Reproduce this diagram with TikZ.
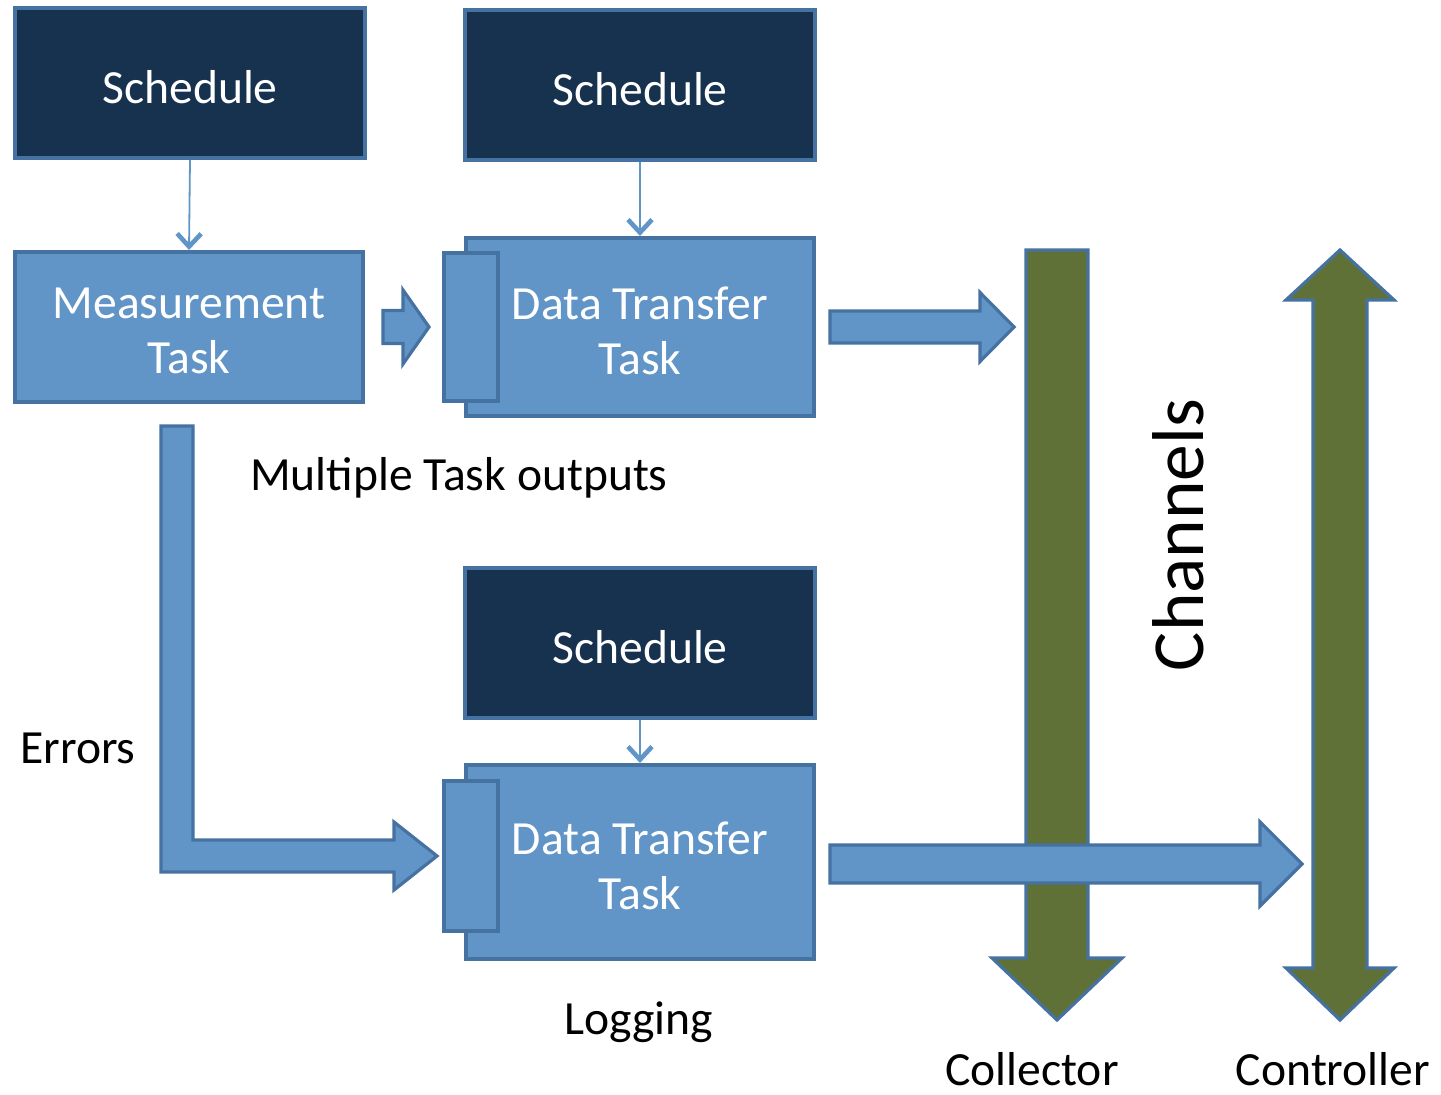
\documentclass[tikz,border=0pt]{standalone}
\usepackage{fontspec}
\setmainfont{Carlito}
\usetikzlibrary{positioning,arrows.meta,calc}
\definecolor{navy}{HTML}{17324F}
\definecolor{taskblue}{HTML}{6195C8}
\definecolor{edgeblue}{HTML}{4672A1}
\definecolor{channelgreen}{HTML}{5F7136}

\newcommand{\blockR}[5]{%
  \draw[blockarrow] let \p1=(#1), \p2=(#2) in
    (\x1,\y2+#3) -- (\x2-#5,\y2+#3) -- (\x2-#5,\y2+#4) -- (\x2,\y2)
    -- (\x2-#5,\y2-#4) -- (\x2-#5,\y2-#3) -- (\x1,\y2-#3) -- cycle;}

\begin{document}
\begin{tikzpicture}[x=0.5pt,y=-0.5pt]
	\tikzstyle{sched} = [rectangle,draw=edgeblue,line width=2pt,fill=navy,
	minimum width=175pt,minimum height=75pt,inner sep=0pt]
	\tikzstyle{task} = [rectangle,draw=edgeblue,line width=2pt,fill=taskblue,
	minimum width=174pt,inner sep=0pt]
	\tikzstyle{boxtext} = [text=white,align=center,inner sep=0pt,yshift=-2pt,font=\fontsize{23.8}{27.5}\selectfont]
	\tikzstyle{tab} = [rectangle,draw=edgeblue,line width=2pt,fill=taskblue,minimum width=27pt,inner sep=0pt]
	\tikzstyle{lbl} = [inner sep=0pt,anchor=base,font=\fontsize{23.8}{27.5}\selectfont]
	\tikzstyle{link} = [draw=taskblue,line width=0.9pt,-{Straight Barb[length=6.5pt,width=12pt,line width=2.3pt]}]
	\tikzstyle{blockarrow} = [draw=edgeblue,line width=1.6pt,fill=taskblue,line join=miter]
	\tikzstyle{channel} = [draw=edgeblue,line width=1.6pt,fill=channelgreen,line join=miter]

	\useasboundingbox (0,0) rectangle (1441,1095);

	\node (sched1) [sched, label={[boxtext]center:Schedule}] at (190,83) {};
	\node (sched2) [sched, label={[boxtext]center:Schedule}] at (640,85) {};
	\node (sched3) [sched, label={[boxtext]center:Schedule}] at (640,643) {};

	\node (meas) [task, minimum height=75pt, label={[boxtext]center:{Measurement\\Task}}] at (189,327) {};
	\node (xfer1) [task, minimum height=89pt] at (640,327) {};
	\node (tab1) [tab, minimum height=74pt] at (471,327) {};
	\node (xfer1txt) [boxtext] at (xfer1) {Data Transfer\\Task};
	\node (xfer2) [task, minimum height=97pt] at (640,862) {};
	\node (tab2) [tab, minimum height=75pt] at (471,856) {};
	\node (xfer2txt) [boxtext] at (xfer2) {Data Transfer\\Task};

	\draw[link] (sched1.south) -- (meas.north);
	\draw[link] (sched2.south) -- (xfer1.north);
	\draw[link] (sched3.south) -- (xfer2.north);

	\coordinate (colltop) at (1057,250);
	\coordinate (collend) at (1057,1020);
	\coordinate (ctrltop) at (1340,250);
	\coordinate (ctrlend) at (1340,1020);

	\draw[channel] let \p1=(colltop), \p2=(collend) in
		(\x1-15.5pt,\y1) -- (\x1+15.5pt,\y1) -- (\x1+15.5pt,\y2+31pt) -- (\x1+32.5pt,\y2+31pt)
		-- (\x2,\y2) -- (\x1-32.5pt,\y2+31pt) -- (\x1-15.5pt,\y2+31pt) -- cycle;
	\draw[channel] let \p1=(ctrltop), \p2=(ctrlend) in
		(\x1,\y1) -- (\x1+27pt,\y1-25pt) -- (\x1+13.5pt,\y1-25pt) -- (\x1+13.5pt,\y2+26pt)
		-- (\x1+27pt,\y2+26pt) -- (\x2,\y2) -- (\x1-27pt,\y2+26pt) -- (\x1-13.5pt,\y2+26pt)
		-- (\x1-13.5pt,\y1-25pt) -- (\x1-27pt,\y1-25pt) -- cycle;

	\coordinate[xshift=9pt] (measout) at (meas.east);
	\coordinate[xshift=-6.5pt] (xfer1in) at (tab1.west);
	\blockR{measout}{xfer1in}{8.25pt}{18.5pt}{13pt}

	\coordinate[xshift=7pt] (xfer1out) at (xfer1.east);
	\coordinate[xshift=99pt] (collin) at (xfer1.east);
	\blockR{xfer1out}{collin}{8pt}{17.25pt}{17pt}

	\coordinate[xshift=7pt,yshift=-1pt] (xfer2out) at (xfer2.east);
	\coordinate[xshift=243pt,yshift=-1pt] (ctrlin) at (xfer2.east);
	\blockR{xfer2out}{ctrlin}{9.5pt}{21pt}{21pt}

	\coordinate[yshift=-11pt,xshift=-6pt] (errtop) at (meas.south);
	\coordinate[xshift=-2.5pt] (xfer2in) at (tab2.west);
	\draw[blockarrow] let \p1=(errtop), \p2=(xfer2in) in
		(\x1-8pt,\y1) -- (\x1+8pt,\y1) -- (\x1+8pt,\y2+8pt) -- (\x2-21.5pt,\y2+8pt)
		-- (\x2-21.5pt,\y2+17pt) -- (\x2,\y2) -- (\x2-21.5pt,\y2-17pt) -- (\x2-21.5pt,\y2-8pt)
		-- (\x1-8pt,\y2-8pt) -- cycle;

	\node (multi) [lbl] at (459,491) {Multiple Task outputs};
	\node (errors) [lbl] at (78,764) {Errors};
	\node (logging) [lbl] at (639,1034) {Logging};
	\node (collector) [lbl] at (1032,1085) {Collector};
	\node (controller) [lbl] at (1333,1085) {Controller};
	\node (channels) [rotate=90,inner sep=0pt,font=\fontsize{36.7}{40}\selectfont] at (1178,535) {Channels};
\end{tikzpicture}
\end{document}
